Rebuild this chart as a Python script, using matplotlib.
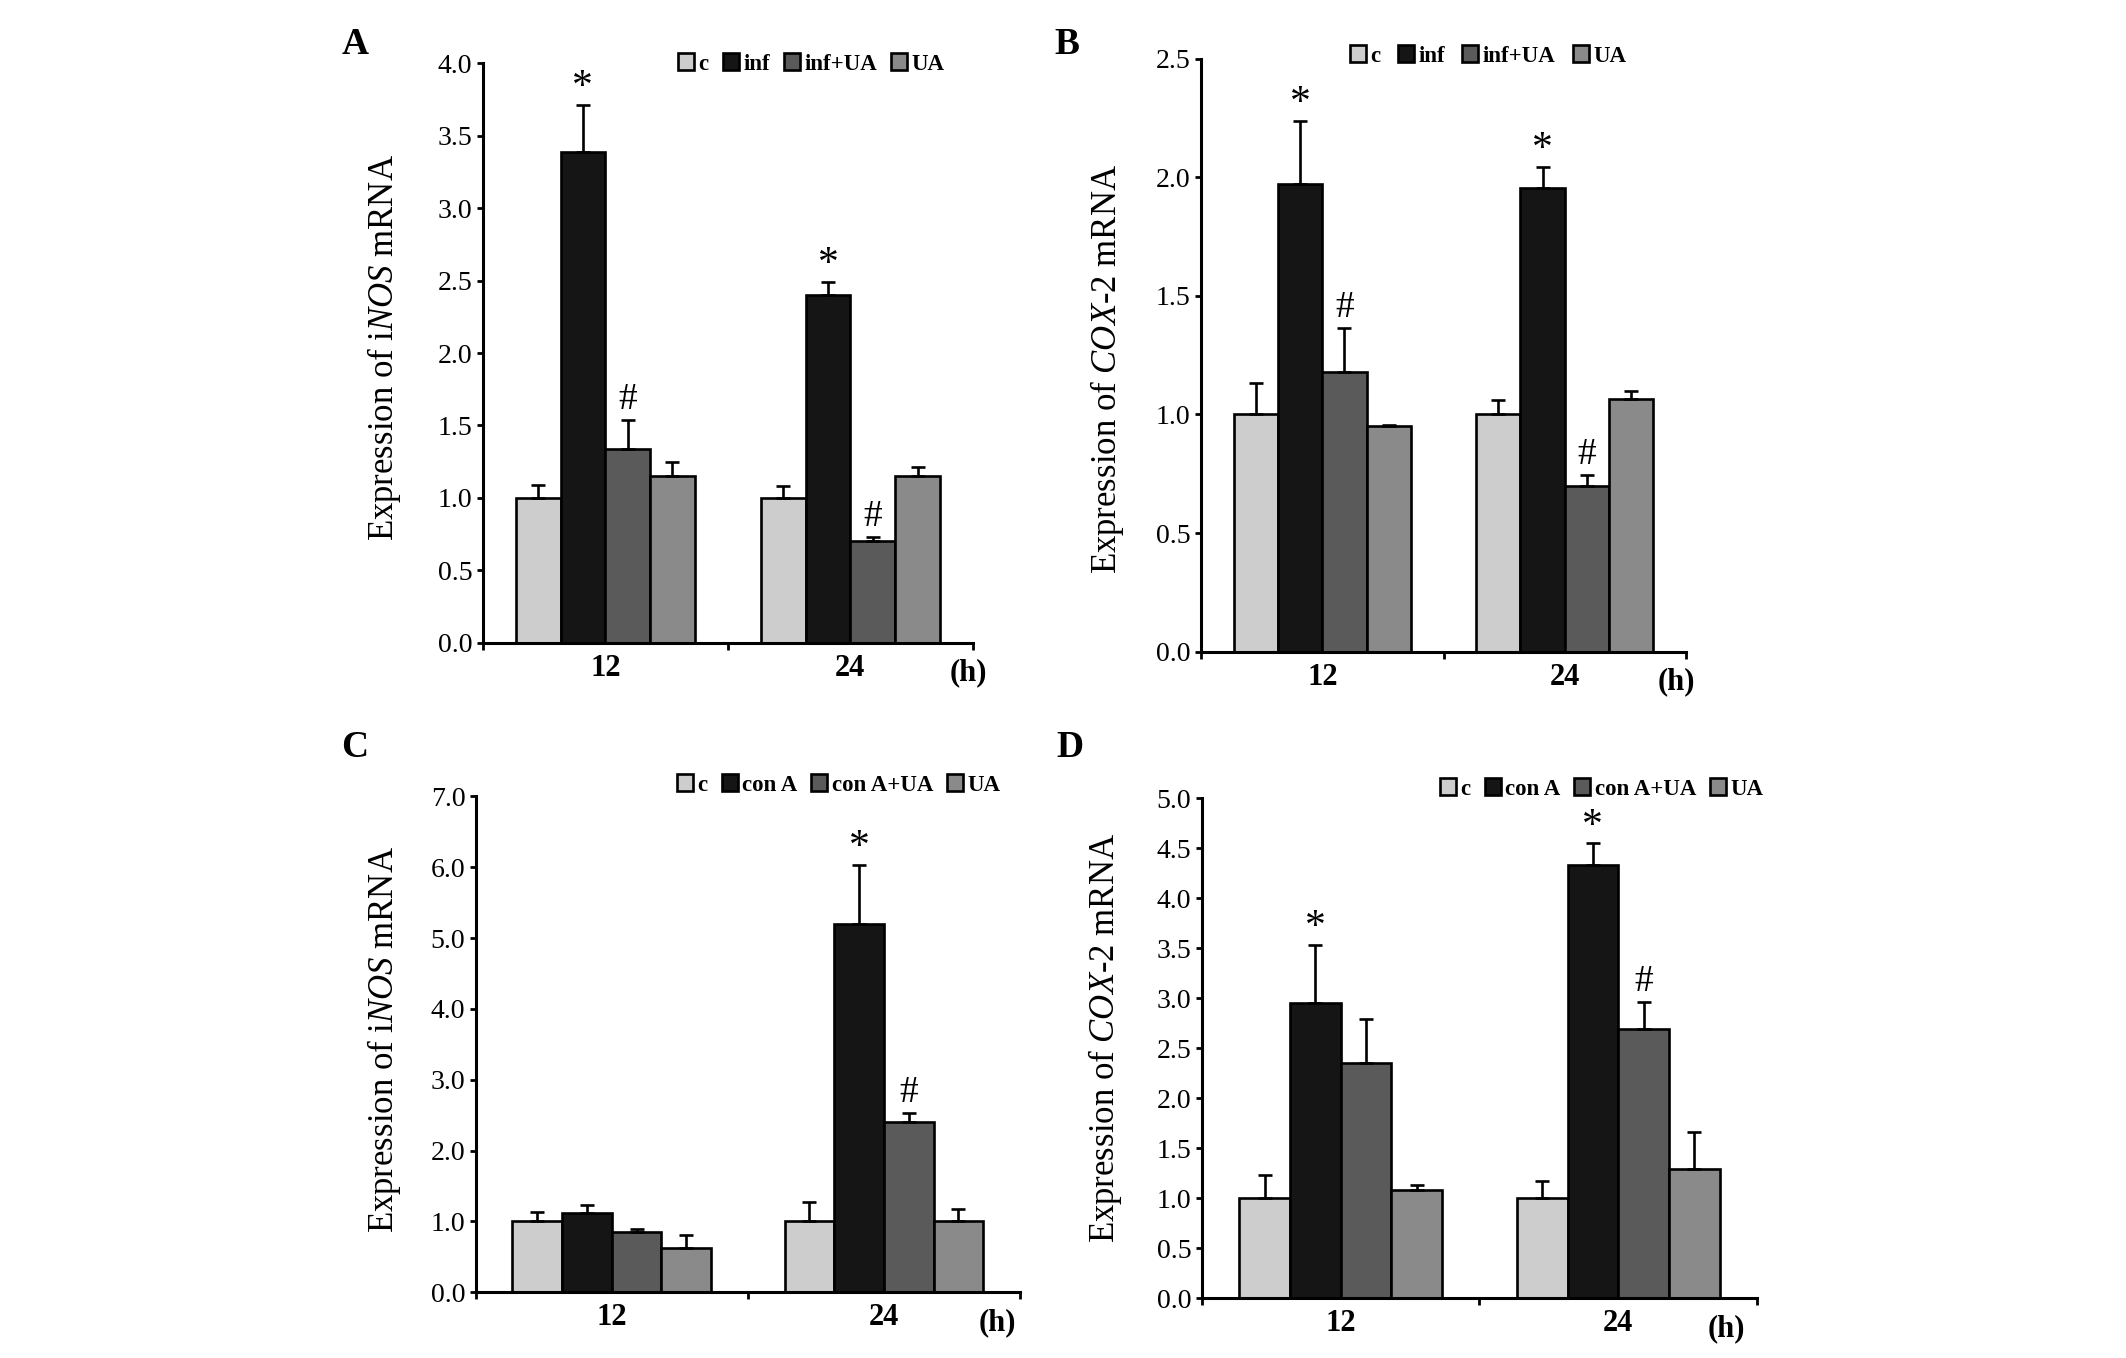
import matplotlib.pyplot as plt
import numpy as np

plt.rcParams['font.family'] = 'Liberation Serif'
plt.rcParams['mathtext.fontset'] = 'custom'
plt.rcParams['mathtext.rm'] = 'Liberation Serif'
plt.rcParams['mathtext.it'] = 'Liberation Serif:italic'

hours = ['12', '24']
colors = ['#cdcdcd', '#151515', '#5a5a5a', '#8a8a8a']

# A - iNOS, infection
labels_A = ['c', 'inf', 'inf+UA', 'UA']
mean_A = [[1.0, 3.39, 1.34, 1.15], [1.0, 2.40, 0.70, 1.15]]
err_A = [[0.09, 0.32, 0.20, 0.095], [0.08, 0.09, 0.03, 0.065]]
sig_A = [['', '*', '#', ''], ['', '*', '#', '']]

# B - COX-2, infection
labels_B = ['c', 'inf', 'inf+UA', 'UA']
mean_B = [[1.0, 1.97, 1.18, 0.95], [1.0, 1.955, 0.70, 1.066]]
err_B = [[0.134, 0.268, 0.185, 0.006], [0.06, 0.089, 0.046, 0.034]]
sig_B = [['', '*', '#', ''], ['', '*', '#', '']]

# C - iNOS, con A
labels_C = ['c', 'con A', 'con A+UA', 'UA']
mean_C = [[1.0, 1.12, 0.855, 0.63], [1.0, 5.2, 2.4, 1.0]]
err_C = [[0.13, 0.11, 0.045, 0.185], [0.27, 0.83, 0.13, 0.17]]
sig_C = [['', '', '', ''], ['', '*', '#', '']]

# D - COX-2, con A
labels_D = ['c', 'con A', 'con A+UA', 'UA']
mean_D = [[1.0, 2.955, 2.355, 1.08], [1.0, 4.335, 2.69, 1.295]]
err_D = [[0.237, 0.577, 0.44, 0.055], [0.17, 0.213, 0.27, 0.364]]
sig_D = [['', '*', '', ''], ['', '*', '#', '']]

W, H = 2126, 1358
fig = plt.figure(figsize=(W / 100, H / 100), dpi=100)


def make_ax(l, r, t, b):
    return fig.add_axes([l / W, 1 - b / H, (r - l) / W, (b - t) / H])


def panel(ax, labels, mean, err, sig, ymax, ylabel, h_x, leg_xy, lab_xy, colsp=0.6):
    w = 0.1825
    mean = np.array(mean)
    err = np.array(err)
    for j in range(4):
        x = np.arange(2) + 0.5 + (j - 1.5) * w
        ax.bar(x, mean[:, j], w, color=colors[j], edgecolor='black',
               linewidth=1.9, label=labels[j], zorder=2)
        ax.errorbar(x, mean[:, j], yerr=[np.zeros(2), err[:, j]], fmt='none',
                    ecolor='black', elinewidth=1.9, capsize=5, capthick=1.9,
                    zorder=3)
        for i in range(2):
            s = sig[i][j]
            if s:
                ax.annotate(s, (x[i], mean[i, j] + err[i, j]),
                            xytext=(0, 5 if s == '*' else 8),
                            textcoords='offset points', ha='center',
                            va='baseline', fontsize=30 if s == '*' else 27)
    ax.set_xlim(0, 2)
    ax.set_ylim(0, ymax[0])
    ticks = np.arange(0, ymax[0] + 1e-6, ymax[1])
    ax.set_yticks(ticks)
    ax.set_yticklabels(['%.1f' % v for v in ticks])
    ax.set_xticks([0, 1, 2])
    ax.set_xticklabels([])
    ax.set_xticks([0.5, 1.5], minor=True)
    ax.set_xticklabels(hours, minor=True, fontweight='bold', fontsize=22)
    ax.tick_params(axis='x', which='minor', length=0, pad=8)
    ax.tick_params(axis='x', which='major', length=5, width=2, direction='out')
    ax.tick_params(axis='y', length=4.5, width=2, labelsize=20, pad=3)
    for s in ['top', 'right']:
        ax.spines[s].set_visible(False)
    for s in ['left', 'bottom']:
        ax.spines[s].set_linewidth(2.2)
    ax.set_ylabel(ylabel, fontsize=25)
    ax.yaxis.set_label_coords(*lab_xy)
    ax.annotate('(h)', xy=(h_x, 0), xycoords='axes fraction', xytext=(0, -30),
                textcoords='offset pixels', ha='center', va='center',
                fontsize=22, fontweight='bold')
    ax.legend(loc='center left', bbox_to_anchor=(leg_xy[0] / W, 1 - leg_xy[1] / H),
              bbox_transform=fig.transFigure, ncol=4, frameon=False,
              prop={'weight': 'bold', 'size': 16.5}, handlelength=0.7,
              handleheight=0.7, handletextpad=0.2, columnspacing=colsp,
              borderpad=0, borderaxespad=0)


axA = make_ax(482.7, 973, 63.3, 642.7)
axB = make_ax(1201, 1686, 58.6, 651.7)
axC = make_ax(475.7, 1020, 796.4, 1292.3)
axD = make_ax(1201.7, 1757, 798.3, 1298.3)

inos = 'Expression of i$\\mathit{NOS}$ mRNA'
cox = 'Expression of $\\mathit{COX}$-$\\mathit{2}$ mRNA'
panel(axA, labels_A, mean_A, err_A, sig_A, (4.0, 0.5), inos, 0.99, (678, 64), (-0.162, 0.509))
panel(axB, labels_B, mean_B, err_B, sig_B, (2.5, 0.5), cox, 0.98, (1350, 56), (-0.155, 0.477), 0.75)
panel(axC, labels_C, mean_C, err_C, sig_C, (7.0, 1.0), inos, 0.958, (677, 785), (-0.133, 0.51))
panel(axD, labels_D, mean_D, err_D, sig_D, (5.0, 0.5), cox, 0.944, (1440, 789), (-0.140, 0.52))

for letter, x, y in [('A', 355, 45), ('B', 1067, 45), ('C', 355, 747), ('D', 1070, 747)]:
    fig.text(x / W, 1 - y / H, letter, fontsize=27, fontweight='bold',
             ha='center', va='center')

fig.savefig('out.png', dpi=100)
